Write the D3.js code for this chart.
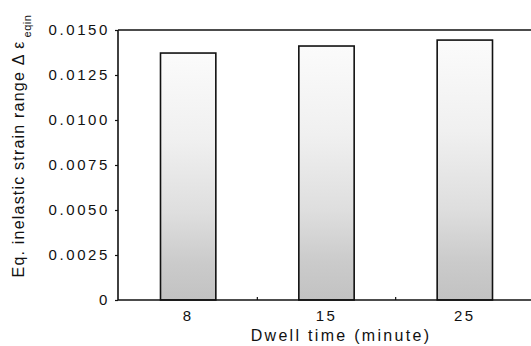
<!DOCTYPE html>
<html>
<head>
<meta charset="utf-8">
<script src="https://cdn.jsdelivr.net/npm/d3@7"></script>
<style>
  html, body { margin: 0; padding: 0; background: #fff; }
  svg { display: block; }
  text { font-family: "Liberation Sans", Arial, Helvetica, sans-serif; fill: #111; }
</style>
</head>
<body>
<svg id="chart" width="531" height="346"></svg>
<script>
// ---- data ----
const categories = ["8", "15", "25"];
const values = [0.01372, 0.01411, 0.01444];
const yTicks = [0, 0.0025, 0.0050, 0.0075, 0.0100, 0.0125, 0.0150];
const yTickLabels = ["0", "0.0025", "0.0050", "0.0075", "0.0100", "0.0125", "0.0150"];
const xTitle = "Dwell time (minute)";
const yTitle = "Eq. inelastic strain range \u0394 \u03b5";
const yTitleSub = "eqin";

// ---- layout ----
const W = 531, H = 346;
const m = { left: 118, top: 30, bottom: 300 };
const svg = d3.select("#chart");

const x = d3.scaleBand().domain(categories).range([m.left + 1, 534]).paddingInner(0.6).paddingOuter(0.3);
const y = d3.scaleLinear().domain([0, 0.015]).range([m.bottom, m.top]);

// gradient for stippled fill
const defs = svg.append("defs");
const grad = defs.append("linearGradient").attr("id", "fillGrad")
  .attr("x1", 0).attr("y1", 0).attr("x2", 0).attr("y2", 1);
[[0, "#fbfbfb"], [0.35, "#f0f0f0"], [0.65, "#dedede"], [0.85, "#cbcbcb"], [1, "#c2c2c2"]]
  .forEach(([o, c]) => grad.append("stop").attr("offset", o).attr("stop-color", c));

// bars
svg.append("g").selectAll("rect").data(categories).join("rect")
  .attr("x", d => x(d))
  .attr("y", (d, i) => y(values[i]))
  .attr("width", x.bandwidth())
  .attr("height", (d, i) => y(0) - y(values[i]))
  .attr("fill", "url(#fillGrad)")
  .attr("stroke", "#111")
  .attr("stroke-width", 1.6);

// y axis
const yAxis = d3.axisLeft(y).tickValues(yTicks).tickSize(3).tickPadding(5)
  .tickFormat((d, i) => yTickLabels[i]);
const gy = svg.append("g").attr("transform", `translate(${m.left},0)`).call(yAxis);
gy.select(".domain").remove();
gy.selectAll(".tick line").attr("stroke", "#111").attr("stroke-width", 1.2);
gy.selectAll(".tick text").attr("font-size", 15).attr("letter-spacing", "2.6px")
  .style("font-family", '"Liberation Sans", Arial, sans-serif').attr("fill", "#111");

// frame lines: left, top, bottom
svg.append("line").attr("x1", m.left).attr("x2", m.left).attr("y1", m.top).attr("y2", m.bottom)
  .attr("stroke", "#111").attr("stroke-width", 1.6);
svg.append("line").attr("x1", m.left).attr("x2", W).attr("y1", m.top).attr("y2", m.top)
  .attr("stroke", "#111").attr("stroke-width", 1.6);
svg.append("line").attr("x1", m.left).attr("x2", W).attr("y1", m.bottom).attr("y2", m.bottom)
  .attr("stroke", "#111").attr("stroke-width", 1.6);

// x axis labels
const xAxis = d3.axisBottom(x).tickSize(0).tickPadding(10);
const gx = svg.append("g").attr("transform", `translate(0,${m.bottom})`).call(xAxis);
gx.select(".domain").remove();
gx.selectAll(".tick text").attr("font-size", 15).attr("letter-spacing", "2.5px")
  .style("font-family", '"Liberation Sans", Arial, sans-serif').attr("fill", "#111");

// small boundary ticks between categories
const bounds = [0.5, 1.5].map(k => x(categories[0]) + x.bandwidth() / 2 + k * x.step());
svg.append("g").selectAll("line").data(bounds).join("line")
  .attr("x1", d => d).attr("x2", d => d).attr("y1", m.bottom).attr("y2", m.bottom - 3)
  .attr("stroke", "#111").attr("stroke-width", 1.2);

// x title
svg.append("text").attr("x", 341).attr("y", 341).attr("text-anchor", "middle")
  .attr("font-size", 16).attr("letter-spacing", "2.3px").text(xTitle);

// y title
const yt = svg.append("text").attr("transform", "translate(24,146) rotate(-90)")
  .attr("text-anchor", "middle").attr("font-size", 16).attr("letter-spacing", "1.2px");
yt.append("tspan").text(yTitle);
yt.append("tspan").attr("font-size", 11).attr("dy", 7).attr("dx", 3).attr("letter-spacing", "0.5px").text(yTitleSub);
</script>
</body>
</html>
